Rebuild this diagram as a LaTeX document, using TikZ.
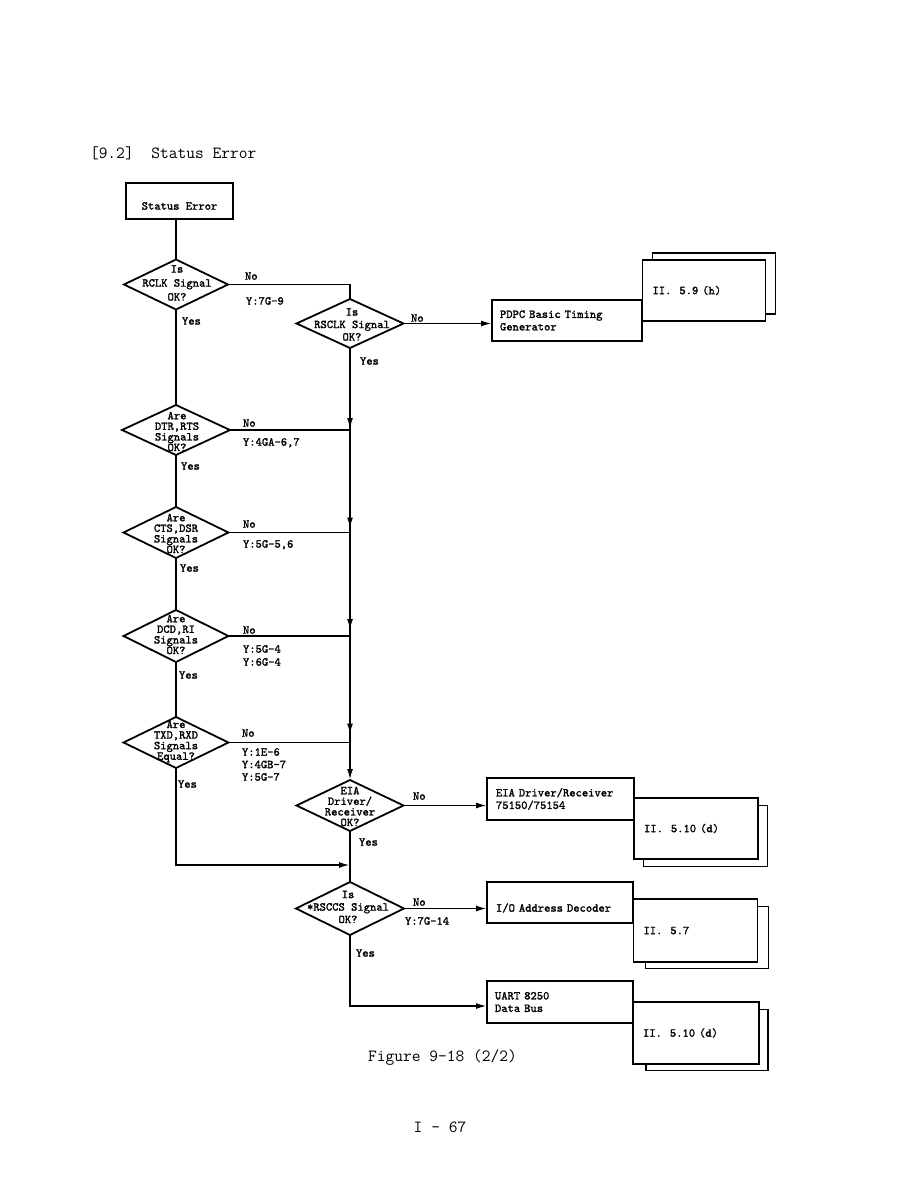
\documentclass[tikz,border=0pt]{standalone}
\usepackage{fontspec}
\usetikzlibrary{shapes.geometric,arrows.meta,calc}
\newfontfamily\twbold{lmmono10-regular.otf}[FakeBold=1.6]
\newcommand\myboxfont{\twbold\fontsize{12}{12.5}\selectfont}
\begin{document}
\begin{tikzpicture}[x=1pt,y=-1pt,
  every node/.style={inner sep=0pt, outer sep=0pt},
  ln/.style={line width=1.8pt},
  arr/.style={ln, -{Latex[length=11pt,width=6pt]}},
  box/.style={draw, ln, fill=white, rectangle, font=\myboxfont, align=left},
  dia/.style={draw, ln, shape=diamond, fill=white},
  dtext/.style={font={\twbold\fontsize{12}{#1}\selectfont}, align=center},
  lbl/.style={anchor=west, font=\myboxfont, text height=7.3pt, text depth=0pt},
  big/.style={font=\ttfamily\fontsize{17}{20}\selectfont, text height=10pt, text depth=0pt},
]
\fill[white] (0,0) rectangle (919,1188);
\useasboundingbox (0,0) rectangle (919,1188);

% headings
\node[big, anchor=west] (title) at (90,153) {[9.2]\ \ Status Error};
\node[big, anchor=west] (caption) at (368,1056) {Figure 9-18 (2/2)};
\node[big] (page) at (440,1127) {I - 67};

% start box
\node[box, align=center, minimum width=107, minimum height=36, text height=17.3pt, text depth=0pt] (status) at (179.5,201) {Status Error};

% reference stacks (back sheets first)
\node[box, minimum width=123, minimum height=61] (pdpcB) at (714,283.5) {};
\node[box, minimum width=123, minimum height=61, text width=103, inner xsep=10] (pdpcR) at (704,290.5) {II.\ \ 5.9 (h)};
\node[box, minimum width=124, minimum height=61] (eiaB) at (705.5,836) {};
\node[box, minimum width=124, minimum height=61, text width=104, inner xsep=10] (eiaR) at (696,828.5) {II.\ \ 5.10 (d)};
\node[box, minimum width=123, minimum height=62] (ioB) at (707,937.5) {};
\node[box, minimum width=124, minimum height=63, text width=104, inner xsep=10] (ioR) at (695.5,930.5) {II.\ \ 5.7};
\node[box, minimum width=122, minimum height=61] (uartB) at (707,1040) {};
\node[box, minimum width=126, minimum height=62, text width=106, inner xsep=10] (uartR) at (696,1033) {II.\ \ 5.10 (d)};

% action boxes
\node[box, minimum width=150, minimum height=41, text width=134, inner xsep=8] (pdpc) at (567,320.5) {PDPC Basic Timing\\Generator};
\node[box, minimum width=147, minimum height=42, text width=129, inner xsep=9] (eia) at (560.5,799) {EIA Driver/Receiver\\75150/75154};
\node[box, minimum width=146, minimum height=41, text width=128, inner xsep=9, text height=18.3pt, text depth=0pt] (io) at (560,902.5) {I/O Address Decoder};
\node[box, minimum width=146, minimum height=42, text width=130, inner xsep=8] (uart) at (560,1002) {UART 8250\\Data Bus};

% decisions
\node[dia, minimum width=104, minimum height=50] (d1) at (176,284.5) {};
\node[dtext=14] (t1) at (177,283) {Is\\RCLK Signal\\OK?};
\node[dia, minimum width=107, minimum height=49] (d2) at (350,323.5) {};
\node[dtext=12.5] (t2) at (352,324.5) {Is\\RSCLK Signal\\OK?};
\node[dia, minimum width=108, minimum height=50] (d3) at (176,430) {};
\node[dtext=10.6] (t3) at (177,431.5) {Are\\DTR,RTS\\Signals\\OK?};
\node[dia, minimum width=105, minimum height=51] (d4) at (176,532.5) {};
\node[dtext=10.6] (t4) at (176,533.5) {Are\\CTS,DSR\\Signals\\OK?};
\node[dia, minimum width=105, minimum height=52] (d5) at (176,636) {};
\node[dtext=10.6] (t5) at (176,634.5) {Are\\DCD,RI\\Signals\\OK?};
\node[dia, minimum width=105, minimum height=51] (d6) at (176,742.5) {};
\node[dtext=10.6] (t6) at (176,741.5) {Are\\TXD,RXD\\Signals\\Equal?};
\node[dia, minimum width=107, minimum height=51] (d7) at (350,805.5) {};
\node[dtext=10.6] (t7) at (350,806.5) {EIA\\Driver/\\Receiver\\OK?};
\node[dia, minimum width=108, minimum height=53] (d8) at (350,908.5) {};
\node[dtext=12.5] (t8) at (348,907) {Is\\*RSCCS Signal\\OK?};

% junctions on the right column
\coordinate (j3) at (d2.south |- d3.east);
\coordinate (j4) at (d2.south |- d4.east);
\coordinate (j5) at (d2.south |- d5.east);
\coordinate (j6) at (d2.south |- d6.east);
\coordinate (j7) at (350,865);

% connectors
\draw[ln] (d1.north |- status.south) -- (d1.north);
\draw[ln] (d1.east) -| (d2.north);
\draw[arr] (d2.east) -- (d2.east -| pdpc.west);
\draw[ln] (d1.south) -- (d3.north);
\draw[ln] (d3.south) -- (d4.north);
\draw[ln] (d4.south) -- (d5.north);
\draw[ln] (d5.south) -- (d6.north);
\draw[ln] (d2.south) -- (j6);
\draw[ln] (d3.east) -- (j3);
\draw[ln] (d4.east) -- (j4);
\draw[ln] (d5.east) -- (j5);
\draw[ln] (d6.east) -- (j6);
\draw[arr] ($(j3)+(0,-25)$) -- ($(j3)+(0,-1)$);
\draw[arr] ($(j4)+(0,-25)$) -- ($(j4)+(0,-4)$);
\draw[arr] ($(j5)+(0,-25)$) -- ($(j5)+(0,-6)$);
\draw[arr] ($(j6)+(0,-25)$) -- ($(j6)+(0,-8)$);
\draw[arr] (j6) -- (d7.north);
\draw[arr] (d7.east) -- (d7.east -| eia.west);
\draw[ln] (d7.south) -- (d8.north);
\draw[arr] (d6.south) |- (j7);
\draw[arr] (d8.east) -- (d8.east -| io.west);
\draw[arr] (d8.south) |- ($(uart.west)+(0,4)$);

% labels
\node[lbl] (n1) at (245,276) {No};
\node[lbl] (y1) at (246,301) {Y:7G-9};
\node[lbl] (s1) at (182,321) {Yes};
\node[lbl] (n2) at (411,318) {No};
\node[lbl] (s2) at (360,361) {Yes};
\node[lbl] (n3) at (243,423) {No};
\node[lbl] (y3) at (243,442) {Y:4GA-6,7};
\node[lbl] (s3) at (181,466) {Yes};
\node[lbl] (n4) at (243,524) {No};
\node[lbl] (y4) at (243,544) {Y:5G-5,6};
\node[lbl] (s4) at (180,568) {Yes};
\node[lbl] (n5) at (243,630) {No};
\node[lbl] (y5a) at (243,649) {Y:5G-4};
\node[lbl] (y5b) at (243,662) {Y:6G-4};
\node[lbl] (s5) at (179,675) {Yes};
\node[lbl] (n6) at (242,733) {No};
\node[lbl] (y6a) at (242,752) {Y:1E-6};
\node[lbl] (y6b) at (242,764.5) {Y:4GB-7};
\node[lbl] (y6c) at (242,777) {Y:5G-7};
\node[lbl] (s6) at (178,784) {Yes};
\node[lbl] (n7) at (413,796) {No};
\node[lbl] (s7) at (359,842) {Yes};
\node[lbl] (n8) at (413,902) {No};
\node[lbl] (y8) at (405,921) {Y:7G-14};
\node[lbl] (s8) at (356,953) {Yes};
\end{tikzpicture}
\end{document}
